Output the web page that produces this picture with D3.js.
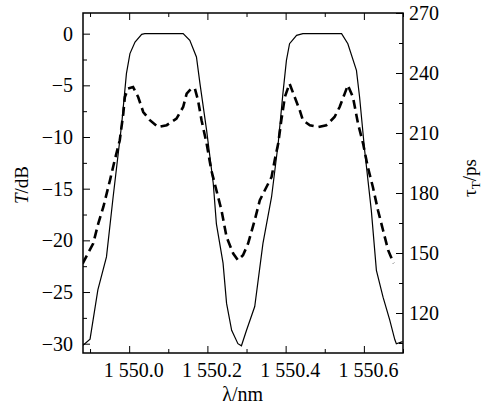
<!DOCTYPE html>
<html>
<head>
<meta charset="utf-8">
<script src="https://cdn.jsdelivr.net/npm/d3@7"></script>
<style>
  body { margin: 0; background: #fff; }
  text { font-family: "Liberation Serif", "Times New Roman", serif; fill: #000; }
</style>
</head>
<body>
<svg id="chart" width="482" height="412"></svg>
<script>
// transmission T (dB), left axis
const wavelengthT = [1549.882, 1549.900, 1549.920, 1549.942, 1549.959, 1549.981, 1549.993, 1550.002,
  1550.015, 1550.032, 1550.040, 1550.138, 1550.155, 1550.172, 1550.181, 1550.198, 1550.215, 1550.223,
  1550.240, 1550.249, 1550.262, 1550.278, 1550.287, 1550.300, 1550.321, 1550.342, 1550.364, 1550.381,
  1550.393, 1550.402, 1550.410, 1550.428, 1550.444, 1550.543, 1550.559, 1550.581, 1550.589, 1550.602,
  1550.619, 1550.632, 1550.649, 1550.666, 1550.679, 1550.683, 1550.699];
const transDB = [-30.15, -29.56, -24.8, -21.6, -15.8, -8.7, -3.87, -1.93,
  -0.81, -0.07, 0, 0, -0.65, -2.26, -4.84, -9.35, -14.5, -18.4,
  -22.2, -26.1, -28.7, -30.0, -30.2, -28.7, -26.4, -20.3, -15.8, -10.6,
  -5.8, -2.58, -0.97, -0.16, 0, 0, -0.97, -3.55, -6.13, -11.3,
  -17.1, -22.9, -25.5, -27.7, -29.6, -30.0, -29.8];

// group delay tau_T (ps), right axis
const wavelengthTau = [1549.881, 1549.908, 1549.921, 1549.934, 1549.951, 1549.963, 1549.976, 1549.985,
  1549.989, 1549.997, 1550.010, 1550.023, 1550.036, 1550.053, 1550.074, 1550.096, 1550.121, 1550.138,
  1550.147, 1550.159, 1550.168, 1550.176, 1550.185, 1550.198, 1550.210, 1550.223, 1550.236, 1550.249,
  1550.266, 1550.278, 1550.291, 1550.304, 1550.321, 1550.334, 1550.351, 1550.364, 1550.372, 1550.381,
  1550.389, 1550.398, 1550.410, 1550.423, 1550.436, 1550.444, 1550.462, 1550.483, 1550.504, 1550.525,
  1550.538, 1550.551, 1550.559, 1550.572, 1550.585, 1550.598, 1550.610, 1550.623, 1550.636, 1550.649,
  1550.662, 1550.676];
const delayPs = [144.7, 154.7, 164.7, 173, 186.4, 196.4, 206.4, 219.7,
  228, 232.2, 233, 228, 220.5, 216.4, 213, 213.9, 217.2, 223,
  229.7, 232.2, 232.2, 226.4, 216.4, 204.7, 191.4, 181.4, 171.4, 158,
  149.7, 146.4, 148.9, 154.7, 166.4, 176.4, 183, 188, 196.4, 204.7,
  216.4, 228, 234.7, 228, 221.4, 216.4, 213.9, 213, 213.9, 218,
  223, 229.7, 233.9, 228, 214.7, 204.7, 193, 183, 171.4, 161.4,
  151.4, 144.9];

const xTicks = [1550.0, 1550.2, 1550.4, 1550.6];
const xMinorTicks = [1549.9, 1550.1, 1550.3, 1550.5, 1550.7];
const leftTicks = [0, -5, -10, -15, -20, -25, -30];
const leftMinorTicks = [-2.5, -7.5, -12.5, -17.5, -22.5, -27.5];
const rightTicks = [270, 240, 210, 180, 150, 120];
const rightMinorTicks = [255, 225, 195, 165, 135, 105];

const margin = {top: 13, right: 79, bottom: 59, left: 83};
const width = 482 - margin.left - margin.right;
const height = 412 - margin.top - margin.bottom;

const svg = d3.select("#chart")
  .append("g")
    .attr("transform", "translate(" + margin.left + "," + margin.top + ")");

const x = d3.scaleLinear().domain([1549.882, 1550.7]).range([0, width]);
const yL = d3.scaleLinear().domain([-30.9, 2]).range([height, 0]);
const yR = d3.scaleLinear().domain([100, 270]).range([height, 0]);

// format "1 550.0"
const fmtX = d => { const s = d.toFixed(1); return s.slice(0, 1) + " " + s.slice(1); };
const fmtY = d => d < 0 ? "\u2212" + Math.abs(d) : String(d);

function styleAxis(g) {
  g.select(".domain").remove();
  g.selectAll("line").attr("stroke", "#000").attr("stroke-width", 1);
  g.selectAll("text").attr("font-size", 20).attr("fill", "#000")
    .style("font-family", '"Liberation Serif", "Times New Roman", serif');
}

// bottom axis
svg.append("g")
  .attr("transform", `translate(0,${height})`)
  .call(d3.axisBottom(x).tickValues(xTicks).tickFormat(fmtX).tickSizeInner(-7).tickSizeOuter(0).tickPadding(10))
  .call(styleAxis)
  .selectAll("text").attr("dx", 4);
svg.append("g")
  .attr("transform", `translate(0,${height})`)
  .call(d3.axisBottom(x).tickValues(xMinorTicks).tickFormat("").tickSizeInner(-4).tickSizeOuter(0))
  .call(styleAxis);

// top axis (mirror ticks)
svg.append("g")
  .call(d3.axisTop(x).tickValues(xTicks).tickFormat("").tickSizeInner(-7).tickSizeOuter(0))
  .call(styleAxis);
svg.append("g")
  .call(d3.axisTop(x).tickValues(xMinorTicks).tickFormat("").tickSizeInner(-4).tickSizeOuter(0))
  .call(styleAxis);

// left axis
svg.append("g")
  .call(d3.axisLeft(yL).tickValues(leftTicks).tickFormat(fmtY).tickSizeInner(-7).tickSizeOuter(0).tickPadding(10))
  .call(styleAxis);
svg.append("g")
  .call(d3.axisLeft(yL).tickValues(leftMinorTicks).tickFormat("").tickSizeInner(-4).tickSizeOuter(0))
  .call(styleAxis);

// right axis
svg.append("g")
  .attr("transform", `translate(${width},0)`)
  .call(d3.axisRight(yR).tickValues(rightTicks).tickFormat(d3.format("d")).tickSizeInner(-7).tickSizeOuter(0).tickPadding(6))
  .call(styleAxis);
svg.append("g")
  .attr("transform", `translate(${width},0)`)
  .call(d3.axisRight(yR).tickValues(rightMinorTicks).tickFormat("").tickSizeInner(-4).tickSizeOuter(0))
  .call(styleAxis);

// frame
svg.append("rect")
  .attr("width", width).attr("height", height)
  .attr("fill", "none").attr("stroke", "#000").attr("stroke-width", 1.5);

svg.append("clipPath").attr("id", "clip")
  .append("rect").attr("width", width).attr("height", height);

const plot = svg.append("g").attr("clip-path", "url(#clip)");

const lineT = d3.line()
  .x((d, i) => x(wavelengthT[i]))
  .y(d => yL(d));
plot.append("path")
  .datum(transDB)
  .attr("d", lineT)
  .attr("fill", "none")
  .attr("stroke", "#000")
  .attr("stroke-width", 1.2);

const lineTau = d3.line()
  .x((d, i) => x(wavelengthTau[i]))
  .y(d => yR(d));
plot.append("path")
  .datum(delayPs)
  .attr("d", lineTau)
  .attr("fill", "none")
  .attr("stroke", "#000")
  .attr("stroke-width", 2.6)
  .attr("stroke-dasharray", "9,5");

// axis titles
svg.append("text")
  .attr("x", x(1550.29))
  .attr("y", height + 48)
  .attr("text-anchor", "middle")
  .attr("font-size", 20)
  .text("\u03bb/nm");

const tl = svg.append("text")
  .attr("transform", `translate(${28 - margin.left},${185 - margin.top}) rotate(-90)`)
  .attr("text-anchor", "middle")
  .attr("font-size", 19);
tl.append("tspan").attr("font-style", "italic").text("T");
tl.append("tspan").text("/dB");

const tr = svg.append("text")
  .attr("transform", `translate(${476 - margin.left},${178 - margin.top}) rotate(-90)`)
  .attr("text-anchor", "middle")
  .attr("font-size", 19);
tr.append("tspan").text("\u03c4");
tr.append("tspan").attr("font-size", 13).attr("dy", 4).text("T");
tr.append("tspan").attr("dy", -4).text("/ps");
</script>
</body>
</html>
